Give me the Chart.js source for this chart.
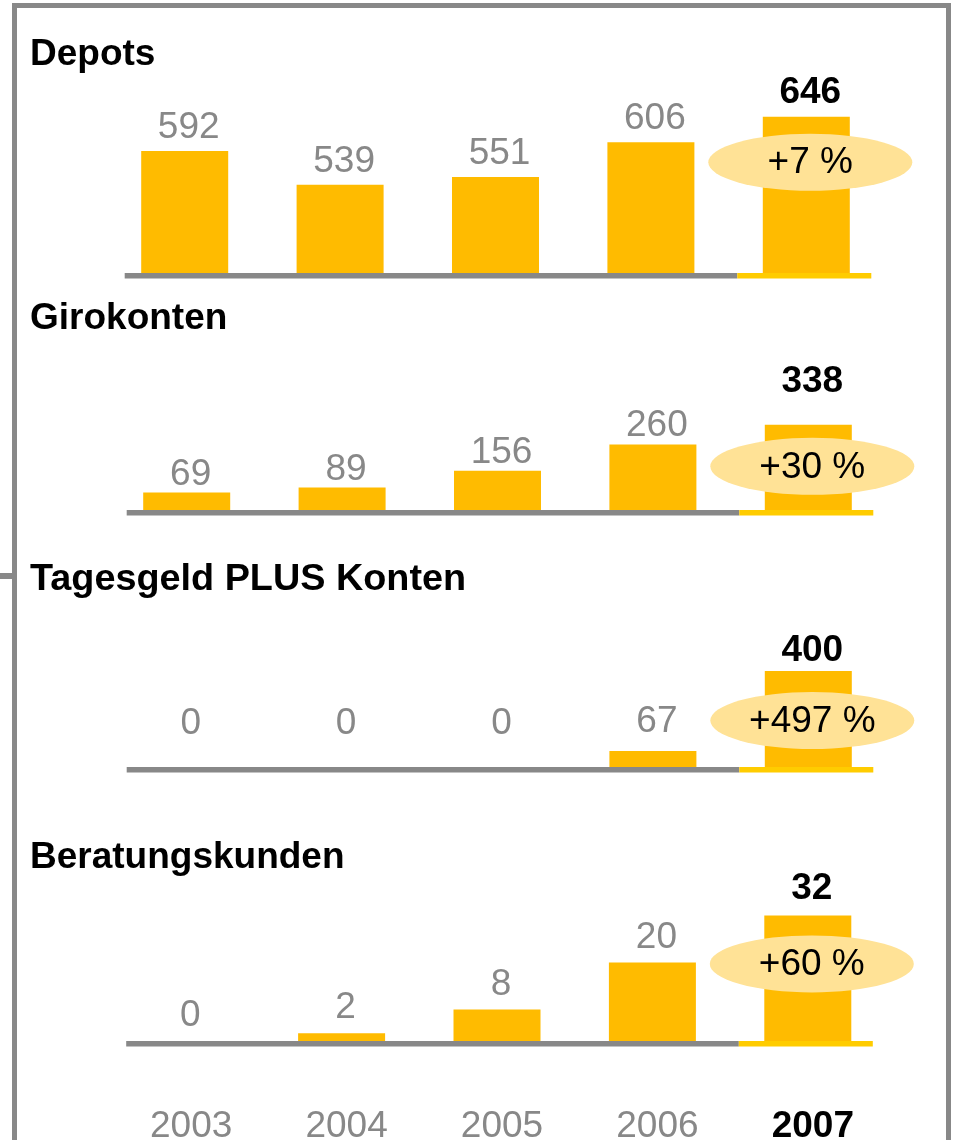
<!DOCTYPE html>
<html>
<head>
<meta charset="utf-8">
<script src="https://cdn.jsdelivr.net/npm/chart.js@4/dist/chart.umd.min.js"></script>
<style>
  html, body { margin: 0; padding: 0; background: #fff; overflow: hidden; }
  #wrap { position: relative; width: 955px; height: 1140px; overflow: hidden; }
  #frame { position: absolute; left: 12px; top: 3px; width: 929px; height: 1200px; border: 5px solid #888; }
  #tick { position: absolute; left: 0; top: 573px; width: 13px; height: 6px; background: #888; }
  canvas { position: absolute; left: 0; top: 0; }
</style>
</head>
<body>
<div id="wrap">
  <div id="frame"></div>
  <div id="tick"></div>
  <canvas id="c0" width="955" height="1140"></canvas>
  <canvas id="c1" width="955" height="1140"></canvas>
  <canvas id="c2" width="955" height="1140"></canvas>
  <canvas id="c3" width="955" height="1140"></canvas>
</div>
<script>
// ---- data ----
const years = ['2003', '2004', '2005', '2006', '2007'];
const depots = [592, 539, 551, 606, 646];
const girokonten = [69, 89, 156, 260, 338];
const tagesgeldPlus = [0, 0, 0, 67, 400];
const beratungskunden = [0, 2, 8, 20, 32];
const panelTitles = ['Depots', 'Girokonten', 'Tagesgeld PLUS Konten', 'Beratungskunden'];
const growthLabels = ['+7 %', '+30 %', '+497 %', '+60 %'];
const panelValues = [depots, girokonten, tagesgeldPlus, beratungskunden];
const axisMin = [400, 0, 0, 0];
const axisMax = [700, 700, 700, 40];

// ---- layout / style ----
const FONT = '"Liberation Sans", Arial, Helvetica, sans-serif';
const BAR = '#FFBB00';
const GRAY = '#888888';
const layouts = [
  { top: 82.5, bottom: 273, left: 107, titleY: 65, gap: 13, minGap: 0, totalGap: 14, ell: 45.5, titleSize: 37 },
  { top: 333.6, bottom: 510, left: 109, titleY: 329, gap: 8, minGap: 0, totalGap: 33, ell: 41.5, titleSize: 37 },
  { top: 599, bottom: 767, left: 109, titleY: 590, gap: 19, minGap: 33, totalGap: 10, ell: 49.5, titleSize: 37.8 },
  { top: 884, bottom: 1041, left: 108.5, titleY: 868, gap: 15, minGap: 15, totalGap: 16, ell: 48.5, titleSize: 37 }
];
const CAT_W = 155.4;

function makePanelPlugin(p) {
  return {
    id: 'panelDeco' + p,
    afterDatasetsDraw(chart) {
      const ctx = chart.ctx;
      const xs = chart.scales.x, ys = chart.scales.y;
      const meta = chart.getDatasetMeta(0);
      const vals = panelValues[p];
      const L = layouts[p];
      const last = vals.length - 1;
      const base = ys.getPixelForValue(axisMin[p]);
      ctx.save();
      // baseline
      const x0 = xs.getPixelForValue(0);
      const xl = xs.getPixelForValue(last);
      ctx.fillStyle = GRAY;
      ctx.fillRect(x0 - 60, base, (xl - 69) - (x0 - 60), 5.5);
      ctx.fillStyle = '#FFCC00';
      ctx.fillRect(xl - 69, base, 134, 5.5);
      // ellipse with growth label
      const topLast = meta.data[last].y;
      const cx = xl + 4, cy = topLast + L.ell;
      ctx.fillStyle = 'rgb(255,226,150)';
      ctx.beginPath();
      ctx.ellipse(cx, cy, 102, 28.5, 0, 0, Math.PI * 2);
      ctx.fill();
      ctx.fillStyle = '#000';
      ctx.font = '37px ' + FONT;
      ctx.textAlign = 'center';
      ctx.textBaseline = 'middle';
      ctx.fillText(growthLabels[p], cx, cy + 1);
      // value labels
      ctx.textBaseline = 'alphabetic';
      vals.forEach((v, i) => {
        const bx = meta.data[i].x + 4;
        const by = meta.data[i].y;
        if (i === last) {
          ctx.font = 'bold 37px ' + FONT;
          ctx.fillStyle = '#000';
          ctx.fillText(String(v), bx, by - L.totalGap);
        } else {
          ctx.font = '37px ' + FONT;
          ctx.fillStyle = GRAY;
          ctx.fillText(String(v), bx, Math.min(by - L.gap, base - L.minGap));
        }
      });
      // panel title
      ctx.textAlign = 'left';
      ctx.font = 'bold ' + L.titleSize + 'px ' + FONT;
      ctx.fillStyle = '#000';
      ctx.fillText(panelTitles[p], 30, L.titleY);
      // year labels under last panel
      if (p === panelTitles.length - 1) {
        ctx.textAlign = 'center';
        years.forEach((y, i) => {
          ctx.font = (i === last ? 'bold ' : '') + '37px ' + FONT;
          ctx.fillStyle = i === last ? '#000' : GRAY;
          ctx.fillText(y, xs.getPixelForValue(i) + 5, 1137);
        });
      }
      ctx.restore();
    }
  };
}

panelValues.forEach((vals, p) => {
  const L = layouts[p];
  new Chart(document.getElementById('c' + p), {
    type: 'bar',
    data: {
      labels: years,
      datasets: [{
        data: vals,
        backgroundColor: BAR,
        borderWidth: 0,
        barPercentage: 87 / CAT_W,
        categoryPercentage: 1
      }]
    },
    options: {
      responsive: false,
      animation: false,
      devicePixelRatio: 1,
      events: [],
      layout: {
        padding: {
          top: L.top,
          bottom: 1140 - L.bottom,
          left: L.left,
          right: 955 - L.left - CAT_W * years.length
        }
      },
      plugins: { legend: { display: false }, tooltip: { enabled: false }, title: { display: false } },
      scales: {
        x: { display: false },
        y: { display: false, min: axisMin[p], max: axisMax[p] }
      }
    },
    plugins: [makePanelPlugin(p)]
  });
});
</script>
</body>
</html>
